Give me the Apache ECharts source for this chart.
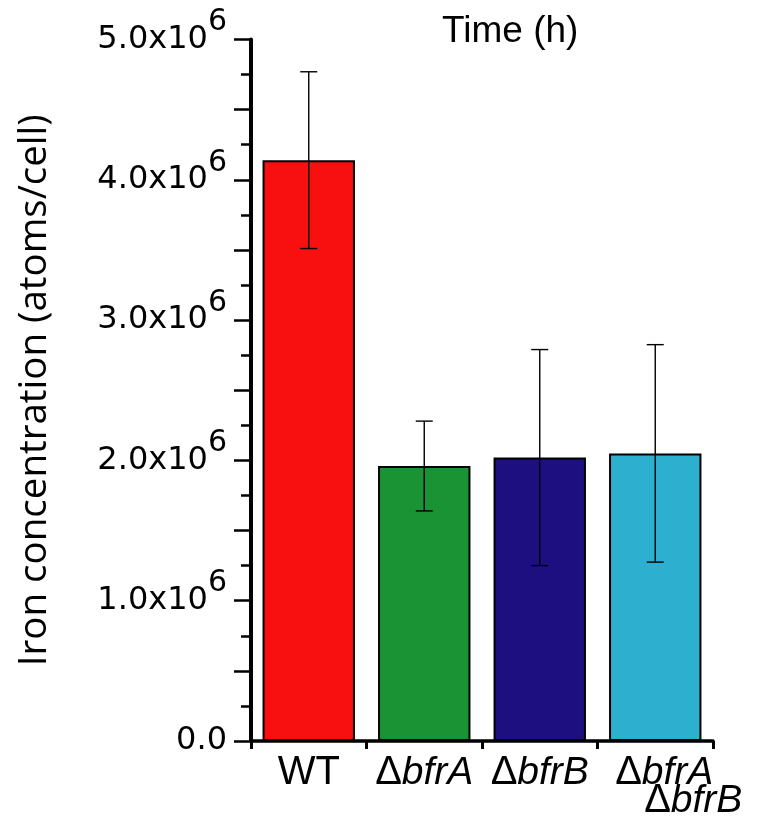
<!DOCTYPE html>
<html>
<head>
<meta charset="utf-8">
<script src="https://cdn.jsdelivr.net/npm/echarts@6/dist/echarts.min.js"></script>
<style>
  html, body { margin: 0; padding: 0; background: #fff; }
  #main { width: 757px; height: 816px; }
</style>
</head>
<body>
<div id="main"></div>
<script>
// strains on the x axis
var categories = ['WT', 'ΔbfrA', 'ΔbfrB', 'ΔbfrA\nΔbfrB'];
// mean iron per cell and the error (one sd)
var means = [4.14e6, 1.96e6, 2.02e6, 2.05e6];
var errors = [0.63e6, 0.32e6, 0.77e6, 0.775e6];
var barColors = ['#f80f10', '#199334', '#1e0f80', '#2db0d0'];

var chart = echarts.init(document.getElementById('main'), null, { renderer: 'canvas' });

// "ΔbfrA" -> upright delta + italic name
function strainLabel(name) {
  var lines = name.split('\n');
  return lines.map(function (ln, i) {
    var out = '';
    if (lines.length > 1) out += i === 0 ? '{sp1|}' : '{sp2|}';
    if (ln.charAt(0) === 'Δ') {
      out += '{d|Δ}{i|' + ln.slice(1) + '}';
    } else {
      out += '{n|' + ln + '}';
    }
    return out;
  }).join('\n');
}

function yLabel(v) {
  if (Math.abs(v % 1e6) > 1) return '';
  if (v === 0) return '{a|0.0}';
  return '{a|' + (v / 1e6).toFixed(1) + 'x10}{s|6}';
}

chart.setOption({
  animation: false,
  backgroundColor: '#fff',
  title: {
    text: 'Time (h)',
    left: 437,
    top: 8,
    textStyle: {
      fontFamily: 'Liberation Sans',
      fontSize: 37,
      fontWeight: 'normal',
      color: '#000'
    }
  },
  grid: {
    left: 251,
    right: 44,
    top: 39.5,
    bottom: 75,
    containLabel: false,
    outerBoundsMode: 'none'
  },
  xAxis: {
    type: 'category',
    data: categories,
    axisLine: { lineStyle: { color: '#000', width: 3.5 } },
    axisTick: { show: true, length: 8, lineStyle: { color: '#000', width: 3 } },
    axisLabel: {
      interval: 0,
      margin: 18,
      color: '#000',
      lineHeight: 28,
      formatter: strainLabel,
      rich: {
        n: { fontFamily: 'Liberation Sans', fontSize: 40, color: '#000', lineHeight: 28 },
        d: { fontFamily: 'Liberation Sans', fontSize: 40, color: '#000', lineHeight: 28 },
        i: { fontFamily: 'Liberation Sans', fontStyle: 'italic', fontSize: 39, color: '#000', lineHeight: 28 },
        sp1: { width: 18, lineHeight: 28 },
        sp2: { width: 76, lineHeight: 28 }
      }
    }
  },
  yAxis: {
    type: 'value',
    min: 0,
    max: 5e6,
    interval: 0.5e6,
    name: 'Iron concentration (atoms/cell)',
    nameLocation: 'middle',
    nameGap: 196,
    nameTextStyle: {
      fontFamily: 'Open Sans',
      fontSize: 38.5,
      color: '#000'
    },
    axisLine: { show: true, lineStyle: { color: '#000', width: 4 } },
    axisTick: { show: true, length: 17, lineStyle: { color: '#000', width: 2.5 } },
    minorTick: { show: true, splitNumber: 2, length: 10, lineStyle: { color: '#000', width: 2.5 } },
    splitLine: { show: false },
    axisLabel: {
      margin: 24,
      color: '#000',
      formatter: yLabel,
      rich: {
        a: { fontFamily: 'DejaVu Sans', fontSize: 32, color: '#000', lineHeight: 30 },
        s: { fontFamily: 'DejaVu Sans', fontSize: 30, color: '#000', lineHeight: 28, padding: [0, 0, 34, 0] }
      }
    }
  },
  series: [
    {
      type: 'bar',
      barCategoryGap: '20%',
      data: means.map(function (v, i) {
        return {
          value: v,
          itemStyle: { color: barColors[i], borderColor: '#000', borderWidth: 2 }
        };
      }),
      z: 2
    },
    {
      type: 'custom',
      z: 3,
      data: means.map(function (v, i) { return [i, v - errors[i], v + errors[i]]; }),
      renderItem: function (params, api) {
        var lo = api.coord([api.value(0), api.value(1)]);
        var hi = api.coord([api.value(0), api.value(2)]);
        var hw = 8.5;
        var st = { stroke: '#000', lineWidth: 1.4 };
        return {
          type: 'group',
          children: [
            { type: 'line', shape: { x1: hi[0], y1: hi[1], x2: lo[0], y2: lo[1] }, style: st },
            { type: 'line', shape: { x1: hi[0] - hw, y1: hi[1], x2: hi[0] + hw, y2: hi[1] }, style: st },
            { type: 'line', shape: { x1: lo[0] - hw, y1: lo[1], x2: lo[0] + hw, y2: lo[1] }, style: st }
          ]
        };
      }
    }
  ]
});
</script>
</body>
</html>
